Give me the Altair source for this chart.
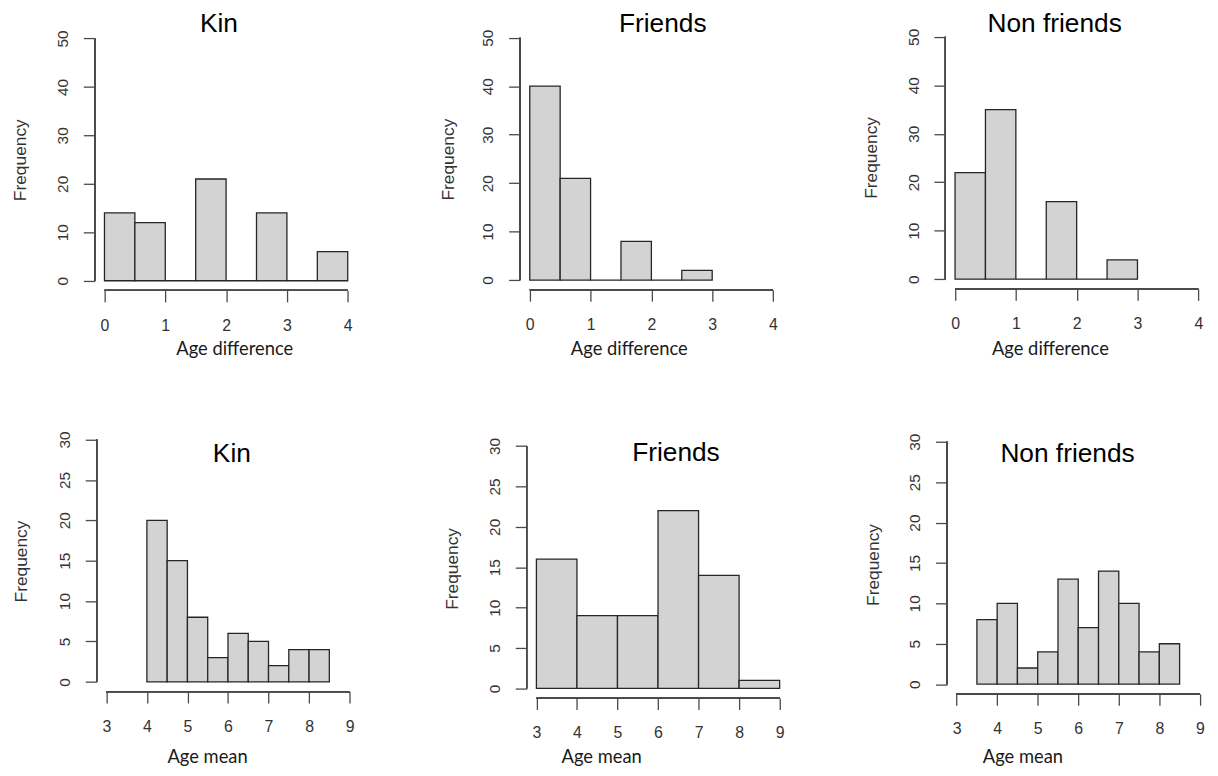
import altair as alt
import pandas as pd

# ---------------- data ----------------
diff_ticks = [0, 1, 2, 3, 4]
diff_freq_ticks = [0, 10, 20, 30, 40, 50]

kin_diff_lo = [0, 0.5, 1, 1.5, 2, 2.5, 3, 3.5]
kin_diff_hi = [0.5, 1, 1.5, 2, 2.5, 3, 3.5, 4]
kin_diff_counts = [14, 12, 0, 21, 0, 14, 0, 6]

friends_diff_lo = [0, 0.5, 1, 1.5, 2, 2.5]
friends_diff_hi = [0.5, 1, 1.5, 2, 2.5, 3]
friends_diff_counts = [40, 21, 0, 8, 0, 2]

nonfriends_diff_lo = [0, 0.5, 1, 1.5, 2, 2.5]
nonfriends_diff_hi = [0.5, 1, 1.5, 2, 2.5, 3]
nonfriends_diff_counts = [22, 35, 0, 16, 0, 4]

mean_ticks = [3, 4, 5, 6, 7, 8, 9]
mean_freq_ticks = [0, 5, 10, 15, 20, 25, 30]

kin_mean_lo = [4, 4.5, 5, 5.5, 6, 6.5, 7, 7.5, 8]
kin_mean_hi = [4.5, 5, 5.5, 6, 6.5, 7, 7.5, 8, 8.5]
kin_mean_counts = [20, 15, 8, 3, 6, 5, 2, 4, 4]

friends_mean_lo = [3, 4, 5, 6, 7, 8]
friends_mean_hi = [4, 5, 6, 7, 8, 9]
friends_mean_counts = [16, 9, 9, 22, 14, 1]

nonfriends_mean_lo = [3.5, 4, 4.5, 5, 5.5, 6, 6.5, 7, 7.5, 8]
nonfriends_mean_hi = [4, 4.5, 5, 5.5, 6, 6.5, 7, 7.5, 8, 8.5]
nonfriends_mean_counts = [8, 10, 2, 4, 13, 7, 14, 10, 4, 5]

# ---------------- style ----------------
AXIS_COLOR = "#4a4a4a"
LABEL_COLOR = "#333333"
BAR_FILL = "#d3d3d3"
BAR_STROKE = "#262626"
SANS = "Liberation Sans"
XTITLE_FONT = "Lato"
W, H = 265, 264          # plot size of the R plotting region
TICK = 11.5


def panel(lo, hi, counts, xticks, yticks, title, xtitle,
          ext_left, ext_top, ext_right, t_dx, t_dy, xt_x, xt_y, yt_x, yt_y):
    """One R-style histogram.  ext_* are extra blank pixels (as extra
    scale domain) used to place the panel inside the grid."""
    df = pd.DataFrame({"lo": lo, "hi": hi, "count": counts})
    xr = xticks[-1] - xticks[0]
    yr = yticks[-1] - yticks[0]
    xdom = [xticks[0] - 0.04 * xr, xticks[-1] + 0.04 * xr]
    ydom = [yticks[0] - 0.04 * yr, yticks[-1] + 0.04 * yr]
    x_ppu = W / (xdom[1] - xdom[0])
    y_ppu = H / (ydom[1] - ydom[0])
    xs = alt.Scale(domain=[xdom[0] - ext_left / x_ppu, xdom[1] + ext_right / x_ppu],
                   nice=False, zero=False)
    ys = alt.Scale(domain=[ydom[0], ydom[1] + ext_top / y_ppu], nice=False, zero=False)

    xaxis = alt.Axis(
        values=xticks, domain=False, grid=False, ticks=True,
        tickSize=TICK, tickColor=AXIS_COLOR, tickWidth=1.3,
        labelFont=SANS, labelFontSize=16, labelColor=LABEL_COLOR,
        labelBaseline="alphabetic", labelPadding=28.5, labelFlush=False,
        labelOverlap=False, format="d",
        title=xtitle, titleFont=XTITLE_FONT, titleFontSize=18.5,
        titleFontWeight="normal", titleColor="#1a1a1a",
        titleX=xt_x, titleY=xt_y, titleAlign="center",
        titleBaseline="alphabetic",
    )
    yaxis = alt.Axis(
        values=yticks, domain=False, grid=False, ticks=True, offset=-ext_left,
        tickSize=TICK, tickColor=AXIS_COLOR, tickWidth=1.3,
        labelFont=SANS, labelFontSize=15.5, labelColor=LABEL_COLOR,
        labelAngle=270, labelAlign="center", labelBaseline="alphabetic",
        labelPadding=16, labelFlush=False, labelOverlap=False, format="d",
        title="Frequency", titleFont=SANS, titleFontSize=17.5,
        titleFontWeight="normal", titleColor="#333333",
        titleAngle=270, titleX=yt_x, titleY=yt_y, titleAlign="center",
        titleBaseline="alphabetic",
    )

    bars = alt.Chart(df).mark_rect(
        fill=BAR_FILL, stroke=BAR_STROKE, strokeWidth=1.3
    ).encode(
        x=alt.X("lo:Q", scale=xs, axis=xaxis),
        x2="hi:Q",
        y=alt.Y("count:Q", scale=ys, axis=yaxis),
        y2=alt.datum(0),
    )
    xline = alt.Chart(df).mark_rule(color=AXIS_COLOR, strokeWidth=1.3).encode(
        x=alt.datum(xticks[0]), x2=alt.datum(xticks[-1]), y=alt.datum(ydom[0])
    )
    yline = alt.Chart(df).mark_rule(color=AXIS_COLOR, strokeWidth=1.3).encode(
        y=alt.datum(yticks[0]), y2=alt.datum(yticks[-1]), x=alt.datum(xdom[0])
    )
    return alt.layer(bars, xline, yline).properties(
        width=W + ext_left + ext_right, height=H + ext_top,
        title=alt.TitleParams(
            text=title, anchor="middle", frame="group", font=SANS,
            fontSize=26.5, fontWeight="normal", color="black",
            baseline="alphabetic", offset=0, dx=t_dx, dy=t_dy,
        ),
    )


p1 = panel(kin_diff_lo, kin_diff_hi, kin_diff_counts, diff_ticks, diff_freq_ticks,
           "Kin", "Age difference", 0, 1.6, 0, -7.2, 31.8, 140.7, 64.6, -69.7, 133.7)
p2 = panel(friends_diff_lo, friends_diff_hi, friends_diff_counts, diff_ticks, diff_freq_ticks,
           "Friends", "Age difference", 0, 0.9, 0, 11.5, 31.8, 109.7, 65.3, -66.7, 133.1)
p3 = panel(nonfriends_diff_lo, nonfriends_diff_hi, nonfriends_diff_counts, diff_ticks, diff_freq_ticks,
           "Non friends", "Age difference", 0, 0, 0, -22.2, 31.8, 105.5, 66.2, -69.1, 131.4)
p4 = panel(kin_mean_lo, kin_mean_hi, kin_mean_counts, mean_ticks, mean_freq_ticks,
           "Kin", "Age mean", 1.9, 0, 4.5, 2.6, 58.5, 113.3, 72.0, -71.0, 132.3)
p5 = panel(friends_mean_lo, friends_mean_hi, friends_mean_counts, mean_ticks, mean_freq_ticks,
           "Friends", "Age mean", 6.7, 6.6, 0, 21.45, 57.5, 81.8, 64.8, -70.1, 139.8)
p6 = panel(nonfriends_mean_lo, nonfriends_mean_hi, nonfriends_mean_counts, mean_ticks, mean_freq_ticks,
           "Non friends", "Age mean", 1.6, 2.3, 0, -10.0, 58.5, 77.8, 69.0, -69.0, 135.8)

chart = alt.concat(
    p1, p2, p3, p4, p5, p6, columns=3,
    spacing={"row": 140.2, "column": 157}, bounds="flush",
).properties(
    padding={"left": 3.5, "top": 0, "right": 0, "bottom": 0},
    background="white",
).configure_view(stroke=None)

chart.save("out.html", embed_options={"renderer": "svg", "actions": False})
